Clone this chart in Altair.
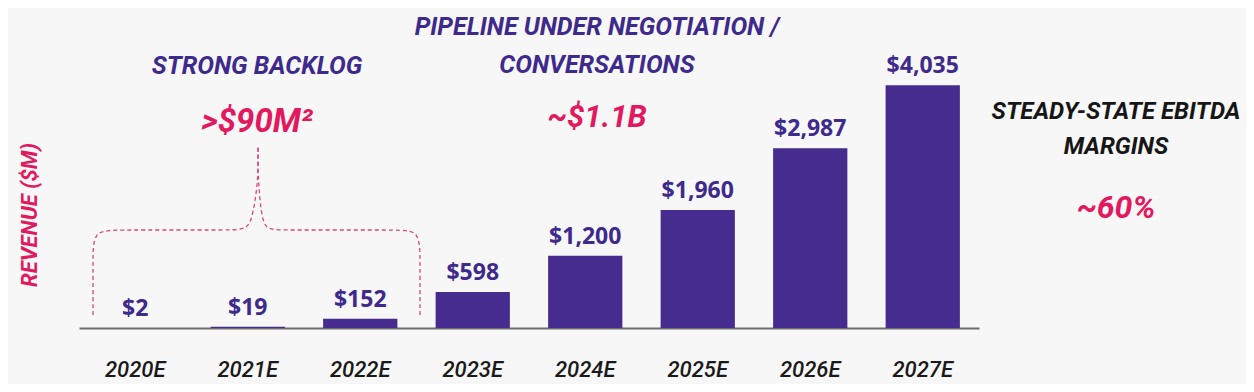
import altair as alt
import pandas as pd

# ---- data ----
years = ["2020E", "2021E", "2022E", "2023E", "2024E", "2025E", "2026E", "2027E"]
revenue = [2, 19, 152, 598, 1200, 1960, 2987, 4035]

backlog_title = "STRONG BACKLOG"
backlog_value = ">$90M²"
pipeline_title = ["PIPELINE UNDER NEGOTIATION /", "CONVERSATIONS"]
pipeline_value = "~$1.1B"
margin_title = ["STEADY-STATE EBITDA", "MARGINS"]
margin_value = "~60%"
y_title = "REVENUE ($M)"

# brace outline (decoration), in view pixels
brace_left_x = [14, 14, 14, 17, 26, 60, 140, 166, 172, 176, 178, 179, 179]
brace_left_y = [307, 255, 238, 226, 222, 222, 222, 222, 214, 194, 178, 165, 139]
brace_right_x = [341, 341, 341, 338, 330, 300, 210, 189, 184, 181, 180, 179, 179]
brace_right_y = [307, 255, 238, 226, 222, 222, 222, 222, 214, 194, 178, 165, 139]

# ---- style ----
W, H = 900, 320
PURPLE = "#452c8e"
TEXT_PURPLE = "#3e2a8c"
PINK = "#e3195f"
BRACE = "#d9467f"
HEAD = "Roboto"
BG = "#f7f7f7"

df = pd.DataFrame({"year": years, "revenue": revenue})

x = alt.X(
    "year:N",
    sort=years,
    scale=alt.Scale(paddingInner=0.34, paddingOuter=0.17),
    axis=alt.Axis(
        title=None, labelAngle=0, ticks=False, tickSize=0, labelPadding=48,
        labelBaseline="alphabetic", labelFont=HEAD, labelFontStyle="italic",
        labelFontWeight=500, labelFontSize=22, labelColor="#1a1a1a",
        domainColor="#6e6e6e", domainWidth=2, grid=False,
    ),
)
y = alt.Y("revenue:Q", scale=alt.Scale(domain=[0, 5320]), axis=None)

base = alt.Chart(df)
bars = base.mark_bar(color=PURPLE).encode(x=x, y=y)
labels = (
    base.transform_calculate(lbl="'$' + format(datum.revenue, ',')")
    .mark_text(dy=-12, baseline="alphabetic", font="Open Sans", fontWeight="bold",
               fontSize=23, color=TEXT_PURPLE)
    .encode(x=x, y=y, text="lbl:N")
)
main = alt.layer(bars, labels)

brace_rows = []
for i, (bx, by) in enumerate(zip(brace_left_x, brace_left_y)):
    brace_rows.append({"side": "L", "i": i, "bx": bx, "by": by})
for i, (bx, by) in enumerate(zip(brace_right_x, brace_right_y)):
    brace_rows.append({"side": "R", "i": i, "bx": bx, "by": by})
brace = alt.Chart(pd.DataFrame(brace_rows)).mark_line(
    interpolate="basis", color=BRACE, strokeDash=[4, 3], strokeWidth=1.3
).encode(
    x=alt.X("bx:Q", scale=alt.Scale(domain=[0, W]), axis=None),
    y=alt.Y("by:Q", scale=alt.Scale(domain=[H, 0]), axis=None),
    detail="side:N",
    order="i:O",
)


def note(text, px, py, size, color, style="italic", weight="bold", angle=0, baseline="alphabetic"):
    return alt.Chart(pd.DataFrame({"t": [text]})).mark_text(
        font=HEAD, fontStyle=style, fontWeight=weight, fontSize=size, color=color,
        align="center", baseline=baseline, angle=angle,
    ).encode(text="t:N", x=alt.value(px), y=alt.value(py))


notes = [
    note(backlog_title, 178, 66, 25, TEXT_PURPLE),
    note(backlog_value, 178, 124, 33, PINK),
    note(pipeline_title[0], 518, 27, 25, TEXT_PURPLE),
    note(pipeline_title[1], 518, 65, 25, TEXT_PURPLE),
    note(pipeline_value, 518, 119, 31, PINK),
    note(margin_title[0], 1037, 111, 24, "#161616"),
    note(margin_title[1], 1037, 146, 24, "#161616"),
    note(margin_value, 1037, 210, 32, PINK),
    note(y_title, -49, 207, 22, PINK, angle=270, baseline="middle"),
]

chart = (
    alt.layer(main, brace, *notes)
    .resolve_scale(x="independent", y="independent")
    .properties(
        width=W, height=H, autosize="none",
        padding={"left": 71, "top": 0, "right": 267, "bottom": 56},
        background=BG,
    )
    .configure_view(stroke=None)
)

chart.save("out.html", embed_options={"renderer": "svg", "actions": False})
